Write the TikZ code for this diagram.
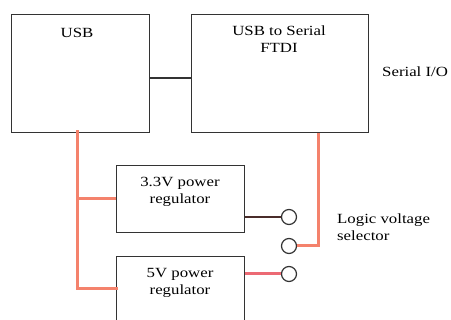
\documentclass[tikz,border=0pt]{standalone}
\usepackage{fontspec}
\setmainfont[FakeStretch=1.2]{Liberation Serif}
\definecolor{wire}{HTML}{F4826C}
\definecolor{wirered}{HTML}{EC6A74}
\definecolor{wiredark}{HTML}{4A2C2A}
\begin{document}
\begin{tikzpicture}[x=1pt,y=-1pt,
  blk/.style={draw=black!80,line width=1.3pt,inner sep=0pt,anchor=north west},
  lbl/.style={font=\fontsize{14}{17}\selectfont,align=center,inner sep=0pt},
  pwr/.style={draw=wire,line width=3pt},
  term/.style={circle,draw=black!80,line width=1.2pt,minimum size=15pt,inner sep=0pt,fill=white}]
\useasboundingbox (0,0) rectangle (451,320);
\node[blk,minimum width=138pt,minimum height=118pt] (usb) at (11,14) {};
\node[blk,minimum width=177pt,minimum height=118pt] (ftdi) at (191,14) {};
\node[blk,minimum width=128pt,minimum height=67pt] (r33) at (116,165) {};
\node[blk,minimum width=128pt,minimum height=70pt] (r5) at (116,256) {};
\node[lbl] (tusb) at (77,33) {USB};
\node[lbl] (tftdi) at (279,39) {USB to Serial\\FTDI};
\node[lbl] (tr33) at (180,192) {3.3V power\\regulator};
\node[lbl] (tr5) at (180,283) {5V power\\regulator};
\node[lbl,anchor=west] (tser) at (382,72) {Serial I/O};
\node[lbl,anchor=west,align=left] (tsel) at (337,227) {Logic voltage\\selector};
\node[term] (c1) at (289,217) {};
\node[term] (c2) at (289,246) {};
\node[term] (c3) at (289,274) {};
\coordinate (u) at (77,132);
\coordinate (ubot) at (77,289);
\coordinate (j33) at (77,199);
\draw[black!80,line width=1.2pt] (usb.east |- 0,78) -- (ftdi.west |- 0,78);
\draw[pwr,line cap=rect] (u) -- (ubot) -- (r5.west |- ubot);
\draw[pwr] (j33) -- (r33.west |- j33);
\draw[pwr] (ftdi.south -| 318,0) -- (318,246) -- (c2.east);
\draw[wiredark,line width=1.3pt] (r33.east |- c1) -- (c1.west);
\draw[wirered,line width=3pt] (r5.east |- c3) -- (c3.west);
\end{tikzpicture}
\end{document}
